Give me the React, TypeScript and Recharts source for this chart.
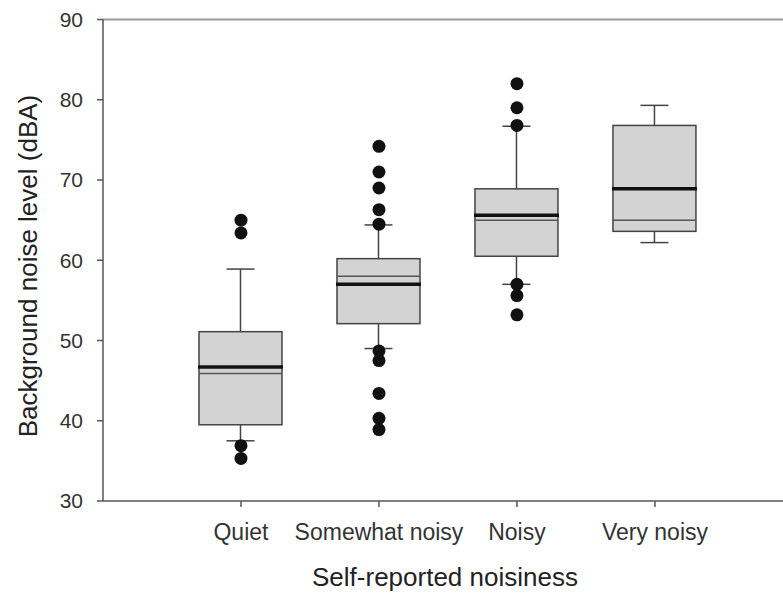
import React from "react";
import {
  ComposedChart,
  Bar,
  Scatter,
  XAxis,
  YAxis,
  ReferenceLine,
} from "recharts";

const categories = ["Quiet", "Somewhat noisy", "Noisy", "Very noisy"];
const positions = [1, 2, 3, 4];
const whiskerLow = [37.5, 49.0, 57.0, 62.2];
const q1 = [39.5, 52.1, 60.5, 63.6];
const median = [45.9, 58.0, 65.0, 65.0];
const mean = [46.7, 57.0, 65.6, 68.9];
const q3 = [51.1, 60.2, 68.9, 76.8];
const whiskerHigh = [58.9, 64.4, 76.7, 79.3];
const outliers = [
  [65.0, 63.4, 36.9, 35.3],
  [74.2, 71.0, 69.0, 66.3, 64.5, 48.7, 47.5, 43.4, 40.3, 38.9],
  [82.0, 79.0, 76.8, 57.0, 55.6, 53.2],
  [],
];
const yTicks = [30, 40, 50, 60, 70, 80, 90];

const boxData = categories.map((name, i) => ({
  name,
  x: positions[i],
  low: whiskerLow[i],
  q1: q1[i],
  median: median[i],
  mean: mean[i],
  q3: q3[i],
  high: whiskerHigh[i],
}));

const outlierData = outliers.flatMap((vals, i) =>
  vals.map((y) => ({ x: positions[i], y }))
);

const BOX = "#444";

// draws the whole box from the bar rect (q1..q3), using its pixel scale
const BoxShape = (props: any) => {
  const { x, y, width, height, payload } = props;
  const top = Math.min(y, y + height);
  const k = Math.abs(height) / (payload.q3 - payload.q1);
  const py = (v: number) => top + (payload.q3 - v) * k;
  const cx = x + width / 2;
  const cap = 14;
  return (
    <g>
      <line x1={cx} x2={cx} y1={py(payload.high)} y2={py(payload.q3)} stroke={BOX} strokeWidth={1.5} />
      <line x1={cx} x2={cx} y1={py(payload.q1)} y2={py(payload.low)} stroke={BOX} strokeWidth={1.5} />
      <line x1={cx - cap} x2={cx + cap} y1={py(payload.high)} y2={py(payload.high)} stroke={BOX} strokeWidth={1.5} />
      <line x1={cx - cap} x2={cx + cap} y1={py(payload.low)} y2={py(payload.low)} stroke={BOX} strokeWidth={1.5} />
      <rect x={x} y={top} width={width} height={Math.abs(height)} fill="#d3d3d3" stroke={BOX} strokeWidth={1.5} />
      <line x1={x} x2={x + width} y1={py(payload.median)} y2={py(payload.median)} stroke="#555" strokeWidth={1.5} />
      <line x1={x - 1} x2={x + width + 1} y1={py(payload.mean)} y2={py(payload.mean)} stroke="#111" strokeWidth={3.5} />
    </g>
  );
};

const Dot = (props: any) => <circle cx={props.cx} cy={props.cy} r={6.5} fill="#111" />;

const font = "'Liberation Sans', Arial, sans-serif";

export default function App() {
  return (
    <div style={{ position: "absolute", left: 0, top: 0, background: "#fff" }}>
      <ComposedChart
        width={783}
        height={596}
        data={boxData}
        margin={{ top: 19.5, right: 0, bottom: 0, left: 0 }}
        style={{ fontFamily: font }}
      >
        <XAxis
          dataKey="x"
          type="number"
          domain={[0, 4.928]}
          ticks={positions}
          interval={0}
          allowDataOverflow
          tickFormatter={(v: number) => categories[v - 1]}
          height={95}
          tickSize={6}
          tickMargin={17}
          stroke="#555"
          strokeWidth={1.5}
          tick={{ fill: "#333", fontSize: 23 }}
          label={{
            content: (p: any) => {
              const vb = p.viewBox;
              return (
                <text x={vb.x + vb.width / 2 + 2} y={586} textAnchor="middle" fill="#222" fontSize={26} fontFamily={font}>
                  Self-reported noisiness
                </text>
              );
            },
          }}
        />
        <YAxis
          type="number"
          domain={[30, 90]}
          ticks={yTicks}
          interval={0}
          width={103}
          tickSize={6}
          tickMargin={14}
          stroke="#555"
          strokeWidth={1.5}
          tick={{ fill: "#333", fontSize: 21 }}
          label={{
            content: () => (
              <text x={37} y={266} textAnchor="middle" fill="#222" fontSize={26} fontFamily={font} transform="rotate(-90, 37, 266)">
                Background noise level (dBA)
              </text>
            ),
          }}
        />
        <ReferenceLine y={90} stroke="#999" strokeWidth={2} />
        <Bar
          dataKey={(d: any) => [d.q1, d.q3]}
          barSize={83}
          shape={<BoxShape />}
          isAnimationActive={false}
        />
        <Scatter data={outlierData} dataKey="y" shape={<Dot />} isAnimationActive={false} />
      </ComposedChart>
    </div>
  );
}
